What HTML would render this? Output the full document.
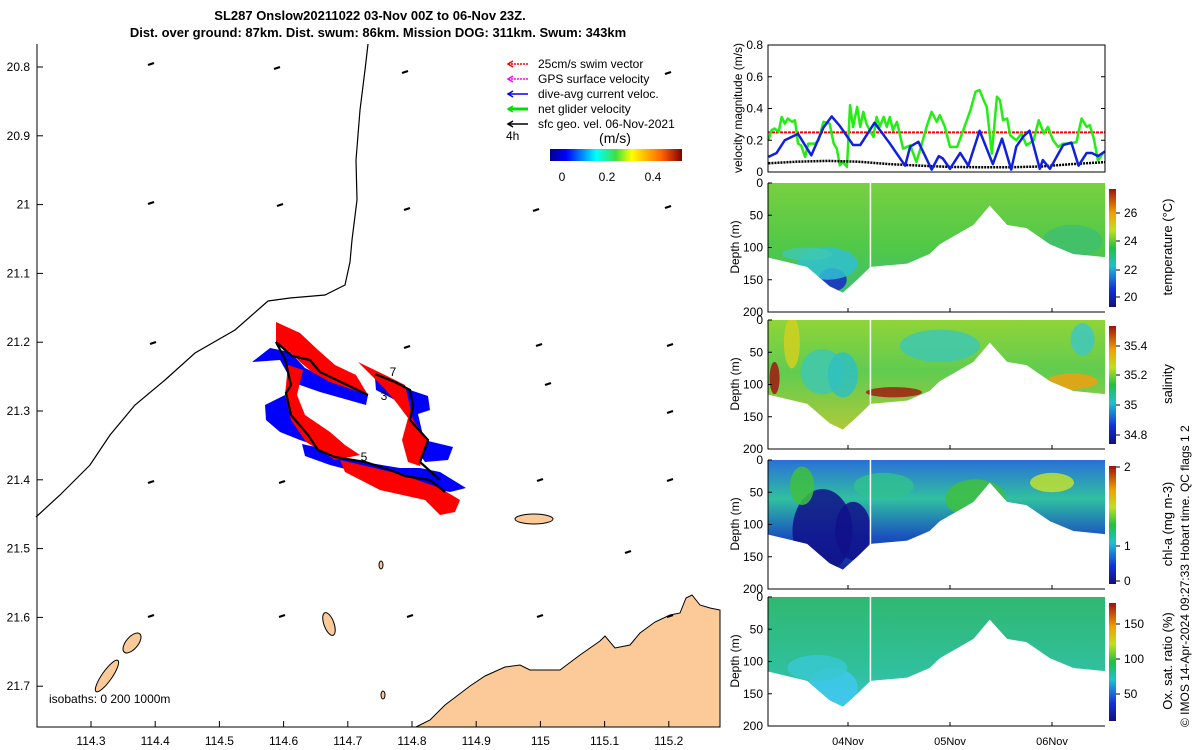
<!DOCTYPE html>
<html><head><meta charset="utf-8"><style>
body{margin:0;background:#fff;}
svg{display:block;font-family:"Liberation Sans",sans-serif;}
</style></head><body>
<svg id="fig" width="1200" height="750" viewBox="0 0 1200 750">
<defs>
<linearGradient id="jet" x1="0" x2="1" y1="0" y2="0">
<stop offset="0" stop-color="#00008f"/><stop offset="0.12" stop-color="#0000ff"/><stop offset="0.35" stop-color="#00ffff"/><stop offset="0.5" stop-color="#40e040"/><stop offset="0.62" stop-color="#ffff00"/><stop offset="0.85" stop-color="#ff6000"/><stop offset="1" stop-color="#800000"/></linearGradient>
<linearGradient id="vjet" x1="0" x2="0" y1="1" y2="0">
<stop offset="0" stop-color="#10107a"/><stop offset="0.15" stop-color="#1030e0"/><stop offset="0.35" stop-color="#20c0d0"/><stop offset="0.5" stop-color="#20c040"/><stop offset="0.65" stop-color="#c0e020"/><stop offset="0.8" stop-color="#f0a000"/><stop offset="1" stop-color="#a01010"/></linearGradient>
<linearGradient id="gTemp" x1="0" x2="0" y1="0" y2="1"><stop offset="0" stop-color="#78d040"/><stop offset="0.5" stop-color="#50c848"/><stop offset="1" stop-color="#38bc80"/></linearGradient>
<linearGradient id="gSal" x1="0" x2="0" y1="0" y2="1"><stop offset="0" stop-color="#90d438"/><stop offset="0.4" stop-color="#60cc50"/><stop offset="1" stop-color="#c8c830"/></linearGradient>
<linearGradient id="gChl" x1="0" x2="0" y1="0" y2="1"><stop offset="0" stop-color="#2a70d8"/><stop offset="0.3" stop-color="#30c0a0"/><stop offset="0.6" stop-color="#1a50c0"/><stop offset="1" stop-color="#10108a"/></linearGradient>
<linearGradient id="gOx" x1="0" x2="0" y1="0" y2="1"><stop offset="0" stop-color="#30b870"/><stop offset="0.6" stop-color="#30c0a0"/><stop offset="1" stop-color="#40c8e0"/></linearGradient>
</defs>
<g id="map"></g>
<g id="right"></g>
<text x="370" y="20" text-anchor="middle" font-size="13" font-weight="bold">SL287 Onslow20211022 03-Nov 00Z to 06-Nov 23Z.</text>
<text x="378" y="37" text-anchor="middle" font-size="13" font-weight="bold">Dist. over ground: 87km. Dist. swum: 86km. Mission DOG: 311km. Swum: 343km</text>
<text transform="translate(1189,727) rotate(-90)" font-size="12">© IMOS 14-Apr-2024 09:27:33 Hobart time. QC flags 1  2</text>
</svg>
<script>
const NS="http://www.w3.org/2000/svg";
function mk(parent,tag,attrs,txt){const e=document.createElementNS(NS,tag);for(const k in attrs)e.setAttribute(k,attrs[k]);if(txt!==undefined)e.textContent=txt;parent.appendChild(e);return e;}
function pts(a){return a.map(p=>p.join(",")).join(" ");}

// ===== MAP =====
const lonTicks=[114.3,114.4,114.5,114.6,114.7,114.8,114.9,115,115.1,115.2];
const latTicks=[20.8,20.9,21,21.1,21.2,21.3,21.4,21.5,21.6,21.7];
const mapL=37,mapR=720,mapT=44,mapB=727;
function mx(lon){return 91+(lon-114.3)*642;}
function my(lat){return 67+(lat-20.8)*688;}
const map=document.getElementById('map');
let land=mk(map,'polygon',{points:pts([[416,727],[430,720],[445,705],[470,686],[485,676],[505,667],[520,665],[530,670],[560,670],[580,655],[600,641],[605,636],[615,648],[630,645],[640,633],[655,622],[670,615],[680,613],[686,598],[692,595],[700,605],[710,608],[720,610],[720,727]]),fill:"#fcca98",stroke:"#000","stroke-width":1});

const islands=[[534,519,19,5,0],[132,643,6,12,40],[107,676,5,19,35],[329,624,5,12,-20],[381,565,2,4,0],[383,695,2,4,0]];
islands.forEach(a=>{const e=mk(map,'ellipse',{cx:a[0],cy:a[1],rx:a[2],ry:a[3],transform:`rotate(${a[4]} ${a[0]} ${a[1]})`,fill:"#fcca98",stroke:"#000","stroke-width":1});
});
let cl=mk(map,'polyline',{points:pts([[368,44],[365,70],[360,110],[356,160],[357,200],[352,240],[350,262],[345,285],[325,295],[290,298],[268,301],[235,330],[195,353],[165,380],[135,405],[110,435],[90,465],[60,495],[36,517]]),fill:"none",stroke:"#000","stroke-width":1.2});

const vec=[[151,64],[277,68],[405,72],[668,73],[151,203],[280,205],[407,209],[536,210],[668,207],[153,343],[280,345],[407,347],[539,345],[670,345],[151,482],[282,482],[410,480],[540,480],[670,480],[151,616],[282,616],[410,616],[540,616],[670,616],[548,384],[670,412],[628,552]];
vec.forEach(v=>{const e=mk(map,'line',{x1:v[0]-3,y1:v[1]+1,x2:v[0]+3,y2:v[1]-1,stroke:"#000","stroke-width":2.2});
});
const blues=[[[252,362],[270,348],[290,352],[305,368],[330,380],[368,395],[366,405],[320,392],[300,385],[290,378],[280,360]],
[[265,405],[285,395],[293,418],[310,432],[320,447],[300,440],[280,432],[266,420]],
[[302,444],[320,448],[340,458],[400,468],[420,468],[440,472],[466,488],[450,492],[420,486],[380,478],[330,465],[305,456]],
[[375,378],[410,390],[428,396],[430,410],[418,414],[424,440],[453,447],[448,460],[425,462],[410,440],[408,415],[395,400],[376,390]]];
const reds=[[[276,322],[300,333],[318,350],[335,365],[356,375],[368,395],[330,382],[312,372],[300,362],[290,352],[276,345]],
[[288,365],[303,370],[297,395],[305,415],[330,432],[345,445],[360,455],[335,460],[306,442],[291,420],[285,395]],
[[340,460],[400,474],[440,488],[460,500],[455,512],[440,515],[425,500],[380,490],[345,472]],
[[358,362],[385,375],[405,385],[413,420],[428,440],[420,466],[408,462],[402,440],[408,418],[396,402],[384,388]]];
blues.forEach(p=>{const e=mk(map,'polygon',{points:pts(p),fill:"#0000ff"});});
reds.forEach(p=>{const e=mk(map,'polygon',{points:pts(p),fill:"#ff0000"});});
const track=[[[276,342],[292,356],[310,360],[320,372],[368,395]],[[276,342],[285,359],[291,385],[286,393],[291,415],[308,435],[318,450],[335,457],[365,462],[390,470],[405,476],[430,480],[445,492]],[[375,374],[395,382],[410,390],[413,405],[410,420],[428,440],[420,462],[440,480]]];
track.forEach(t=>{const e=mk(map,'polyline',{points:pts(t),fill:"none",stroke:"#000","stroke-width":2.2});});
[["3",384,400],["5",364,461],["7",393,376]].forEach(l=>{const e=mk(map,'text',{x:l[1],y:l[2],"font-size":12,"text-anchor":"middle"},l[0]);});
let fr=mk(map,'polyline',{points:pts([[mapL,mapT],[mapL,mapB],[mapR,mapB]]),fill:"none",stroke:"#000","stroke-width":1});

lonTicks.forEach(t=>{const x=mx(t);mk(map,'line',{x1:x,x2:x,y1:mapB,y2:mapB-6,stroke:"#000"});
const e=mk(map,'text',{x:x,y:745,"font-size":12,"text-anchor":"middle"},String(t));});
latTicks.forEach(t=>{const y=my(t);mk(map,'line',{x1:mapL,x2:mapL+6,y1:y,y2:y,stroke:"#000"});
const e=mk(map,'text',{x:30,y:y+4,"font-size":12,"text-anchor":"end"},String(t));});
let iso=mk(map,'text',{x:49,y:703,"font-size":12},"isobaths: 0   200  1000m");
const legItems=[["25cm/s swim vector","#ff0000"],["GPS surface velocity","#ff00ff"],["dive-avg current veloc.","#0000ff"],["net glider velocity","#00dd00"],["sfc geo. vel. 06-Nov-2021","#000000"]];
legItems.forEach((l,i)=>{const y=64+i*15;const g=mk(map,'g',{});
mk(g,'line',{x1:508,x2:528,y1:y,y2:y,stroke:l[1],"stroke-width":i==3?3:1.5,"stroke-dasharray":i<2?"2 1":"none"});
mk(g,'polyline',{points:pts([[513,y-3],[508,y],[513,y+3]]),fill:"none",stroke:l[1],"stroke-width":1.5});
mk(g,'text',{x:538,y:y+4,"font-size":12},l[0]);});
mk(map,'text',{x:506,y:140,"font-size":12},"4h");
mk(map,'text',{x:615,y:143,"font-size":14,"text-anchor":"middle"},"(m/s)");
let cb=mk(map,'rect',{x:550,y:149,width:132,height:12,fill:"url(#jet)"});
[["0",562],["0.2",607],["0.4",653]].forEach(t=>mk(map,'text',{x:t[1],y:181,"font-size":12,"text-anchor":"middle"},t[0]));

// ===== VELOCITY PANEL =====
const pL=768,pR=1105;
function tx(d){return 848+(d-4)*102;}
const blueT=[3.22,3.30,3.38,3.51,3.64,3.76,3.84,3.92,4.05,4.12,4.26,4.41,4.56,4.61,4.69,4.82,4.89,4.93,5.00,5.10,5.18,5.29,5.42,5.51,5.60,5.65,5.72,5.78,5.88,5.91,5.98,6.11,6.19,6.26,6.34,6.39,6.45,6.52];
const blueV=[0.095,0.12,0.2,0.24,0.105,0.28,0.35,0.29,0.17,0.17,0.31,0.18,0.04,0.16,0.19,0.015,0.1,0.085,0.02,0.12,0.04,0.26,0.05,0.21,0.015,0.16,0.225,0.26,0.02,0.075,0.02,0.17,0.185,0.04,0.12,0.12,0.1,0.13];
const greenT=[3.22,3.25,3.28,3.32,3.35,3.38,3.41,3.45,3.48,3.51,3.54,3.58,3.61,3.68,3.71,3.76,3.82,3.86,3.89,3.92,3.95,3.99,4.02,4.05,4.09,4.12,4.15,4.18,4.22,4.25,4.28,4.31,4.35,4.38,4.41,4.44,4.48,4.54,4.61,4.67,4.72,4.77,4.82,4.87,4.90,4.95,5.00,5.07,5.13,5.20,5.25,5.29,5.33,5.36,5.41,5.46,5.49,5.52,5.56,5.59,5.65,5.70,5.75,5.82,5.87,5.92,5.96,6.01,6.06,6.11,6.18,6.24,6.29,6.34,6.37,6.41,6.45,6.50];
const greenV=[0.2,0.263,0.274,0.253,0.347,0.305,0.337,0.316,0.326,0.179,0.168,0.095,0.179,0.179,0.2,0.316,0.305,0.179,0.147,0.042,0.063,0.032,0.421,0.284,0.41,0.284,0.379,0.305,0.253,0.221,0.347,0.284,0.347,0.284,0.347,0.263,0.316,0.147,0.168,0.063,0.168,0.284,0.379,0.316,0.358,0.284,0.158,0.158,0.263,0.389,0.505,0.516,0.453,0.41,0.116,0.474,0.453,0.326,0.337,0.232,0.2,0.242,0.168,0.2,0.326,0.242,0.284,0.2,0.158,0.179,0.179,0.189,0.337,0.284,0.295,0.211,0.074,0.116];
const blackT=[3.22,3.5,3.8,4.1,4.4,4.7,5.0,5.3,5.6,5.9,6.2,6.52];
const blackV=[0.055,0.065,0.07,0.065,0.05,0.04,0.032,0.03,0.03,0.035,0.05,0.062];
const swimV=0.25;
const velTicks=[0,0.2,0.4,0.6,0.8];
const vT=45,vB=172;
function vy(v){return vB-(v/0.8)*(vB-vT);}
const R=document.getElementById('right');
function line(ts,vs,col,w,name,dash){const e=mk(R,'polyline',{points:ts.map((t,i)=>tx(t)+","+vy(vs[i])).join(" "),fill:"none",stroke:col,"stroke-width":w,"stroke-linejoin":"round"});if(dash)e.setAttribute('stroke-dasharray',dash);
}
let sw=mk(R,'line',{x1:pL,x2:pR,y1:vy(swimV),y2:vy(swimV),stroke:"#ff0000","stroke-width":2,"stroke-dasharray":"3 1"});
line(greenT,greenV,"#22ee11",2.5,"net-glider-velocity-line");
line(blackT,blackV,"#000",2.5,"surface-geo-velocity-line","2 1");
line(blueT,blueV,"#1020e0",2.5,"dive-avg-current-line");
mk(R,'rect',{x:pL,y:vT,width:pR-pL,height:vB-vT,fill:"none",stroke:"#000"});
velTicks.forEach(t=>{const y=vy(t);mk(R,'line',{x1:pL,x2:pL+4,y1:y,y2:y,stroke:"#000"});mk(R,'line',{x1:pR,x2:pR-4,y1:y,y2:y,stroke:"#000"});
const e=mk(R,'text',{x:763,y:y+4,"font-size":12,"text-anchor":"end"},String(t));});
let vl=mk(R,'text',{transform:"translate(742,108) rotate(-90)","font-size":12,"text-anchor":"middle"},"velocity magnitude (m/s)");

// ===== SECTIONS =====
const profT=[3.20,3.60,3.82,3.95,4.09,4.22,4.58,4.80,4.90,5.23,5.39,5.56,5.75,5.98,6.21,6.52];
const profD=[115,130,160,170,150,130,125,110,95,65,35,65,70,95,110,115];
const gapT=4.22;
const dayTicks=[["04Nov",4],["05Nov",5],["06Nov",6]];
const depthTicks=[0,50,100,150,200];
const panels=[
 {top:183,grad:"gTemp",label:"temperature (°C)",cb:[["20",297],["22",270],["24",241],["26",213]],name:"temperature",
  blobs:[[3.85,150,14,18,"#1828c8"],[3.8,125,30,25,"#30c0d0"],[3.6,110,25,10,"#40c8b0"],[6.2,90,30,25,"#40c070"]]},
 {top:320,grad:"gSal",label:"salinity",cb:[["35.4",346],["35.2",375],["35",405],["34.8",435]],name:"salinity",
  blobs:[[3.28,90,5,25,"#a01810"],[4.45,112,28,8,"#a02010"],[3.75,80,22,35,"#40c8b0"],[3.95,85,15,35,"#30c0c0"],[6.2,95,25,12,"#f0a010"],[3.45,35,8,40,"#d0d020"],[6.3,30,12,25,"#40c8c0"],[4.9,40,40,25,"#40c8b0"]]},
 {top:460,grad:"gChl",label:"chl-a (mg m-3)",cb:[["2",467],["1",546],["0",581]],name:"chl-a",
  blobs:[[3.75,110,30,65,"#10108a"],[4.05,110,18,45,"#10108a"],[3.55,40,12,30,"#40c040"],[5.25,60,30,30,"#40c040"],[6.0,35,22,15,"#c0e030"],[4.35,40,30,20,"#30c090"]]},
 {top:597,grad:"gOx",label:"Ox. sat. ratio (%)",cb:[["150",624],["100",659],["50",694]],name:"oxygen",
  blobs:[[3.85,140,25,30,"#40c8f0"],[3.7,110,30,20,"#38c8d0"]]}
];
panels.forEach((P,pi)=>{
 const top=P.top,bot=top+129;
 function dy(d){return top+d/200*(bot-top);}
 const g=mk(R,'g',{});
 const cid="clip"+pi;const cp=mk(g,'clipPath',{id:cid});
 const poly=[[tx(profT[0]),dy(0)]].concat(profT.map((t,i)=>[tx(t),dy(profD[i])])).concat([[tx(profT[profT.length-1]),dy(0)]]);
 mk(cp,'polygon',{points:pts(poly)});
 const inner=mk(g,'g',{"clip-path":`url(#${cid})`});
 mk(inner,'rect',{x:pL,y:top,width:pR-pL,height:bot-top,fill:`url(#${P.grad})`});
 P.blobs.forEach(b=>{const e=mk(inner,'ellipse',{cx:tx(b[0]),cy:dy(b[1]),rx:b[2],ry:b[3]*(129/200),fill:b[4],opacity:0.85});});
 mk(inner,'line',{x1:tx(gapT),x2:tx(gapT),y1:top,y2:bot,stroke:"#fff","stroke-width":1.5});
 mk(g,'polyline',{points:pts([[pL,top],[pL,bot],[pR,bot]]),fill:"none",stroke:"#000"});
 depthTicks.forEach(t=>{const y=dy(t);mk(g,'line',{x1:pL,x2:pL+4,y1:y,y2:y,stroke:"#000"});
  const e=mk(g,'text',{x:763,y:y+4,"font-size":12,"text-anchor":"end"},String(t));});
 dayTicks.forEach(d=>mk(g,'line',{x1:tx(d[1]),x2:tx(d[1]),y1:bot,y2:bot-4,stroke:"#000"}));
 const yl=mk(g,'text',{transform:`translate(739,${top+64}) rotate(-90)`,"font-size":12,"text-anchor":"middle"},"Depth (m)");
 const c=mk(g,'rect',{x:1109,y:top+6,width:7,height:118,fill:"url(#vjet)"});
 P.cb.forEach(t=>{mk(g,'line',{x1:1116,x2:1120,y1:t[1],y2:t[1],stroke:"#000"});mk(g,'text',{x:1124,y:t[1]+4,"font-size":12},t[0]);});
 const cl=mk(g,'text',{transform:`translate(1172,${top+64}) rotate(-90)`,"font-size":13,"text-anchor":"middle"},P.label);
});
dayTicks.forEach(d=>{const e=mk(R,'text',{x:tx(d[1]),y:745,"font-size":11,"text-anchor":"middle"},d[0]);});
</script>
</body></html>
